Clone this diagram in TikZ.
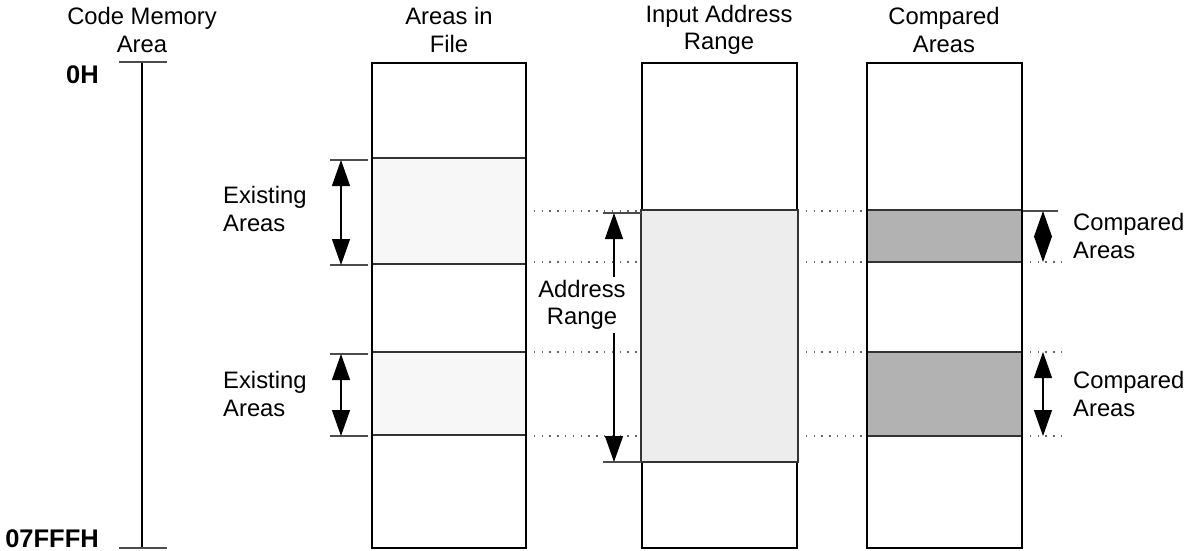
\documentclass[tikz,border=0pt]{standalone}
\usepackage{fontspec}
\setmainfont{Liberation Sans}
\usetikzlibrary{arrows.meta}
\begin{document}
\begin{tikzpicture}[x=1pt,y=-1pt,
  lbl/.style={font=\fontsize{23.8}{27.5}\selectfont, inner sep=0pt},
  big/.style={font=\fontsize{25.5}{30}\bfseries\selectfont, inner sep=0pt},
  col/.style={draw=black, line width=2.5pt},
  area/.style={draw=black!80, line width=1.2pt},
  tick/.style={draw=black!70, line width=1.6pt},
  dots/.style={draw=black!60, line width=1.3pt, dash pattern=on 1.3pt off 6.5pt},
  dimarrow/.style={draw=black, line width=1.2pt, {Triangle[length=26pt,width=18pt]}-{Triangle[length=26pt,width=18pt]}},
]
\useasboundingbox (0,0) rectangle (1187,550);

% headers
\node[lbl, align=center] (h0) at (142,30) {Code Memory\\Area};
\node[lbl, align=center] (h1) at (449,30) {Areas in\\File};
\node[lbl, align=center] (h2) at (719,30) {Input Address\\Range};
\node[lbl, align=center] (h3) at (944,30) {Compared\\Areas};

% code memory scale
\coordinate (cmT) at (142,62);
\coordinate (cmB) at (142,548);
\draw[line width=1.2pt] (cmT) -- (cmB);
\draw[tick] (119,62) -- (167,62);
\draw[tick] (119,548) -- (167,548);
\node[big, anchor=base west] (l0) at (66,83) {0H};
\node[big, anchor=base east] (l1) at (99,547) {07FFFH};

% dotted guide lines
\foreach \yy in {211,262,352,436}{
  \draw[dots] (526,\yy) -- (641,\yy);
  \draw[dots] (798,\yy) -- (867,\yy);
}
\draw[tick, line width=1.3pt] (1022,211) -- (1058,211);
\foreach \yy in {262,352,436}{
  \draw[dots] (1022,\yy) -- (1062,\yy);
}

% column 1 : areas in file
\draw[area, fill=black!3] (372,158) rectangle (526,264);
\draw[area, fill=black!3] (372,352) rectangle (526,435);
\draw[col] (372,63) rectangle (526,548);

% column 2 : input address range
\draw[col] (642,63) rectangle (797,548);
\draw[area, fill=black!7] (641,210) rectangle (798,462);

% column 3 : compared areas
\draw[area, fill=black!30] (867,210) rectangle (1022,262);
\draw[area, fill=black!30] (867,352) rectangle (1022,436);
\draw[col] (867,63) rectangle (1022,548);

% existing areas dimensions
\draw[tick] (330,160) -- (368,160);
\draw[tick] (330,265) -- (368,265);
\draw[dimarrow] (341,160) -- (341,265);
\node[lbl, align=left, anchor=west] (ex1) at (223,209) {Existing\\Areas};

\draw[tick] (330,354) -- (368,354);
\draw[tick] (330,436) -- (368,436);
\draw[dimarrow] (341,354) -- (341,436);
\node[lbl, align=left, anchor=west] (ex2) at (223,394) {Existing\\Areas};

% address range dimension
\draw[tick] (603,213) -- (641,213);
\draw[tick] (603,462) -- (641,462);
\draw[dimarrow] (614,213) -- (614,462);
\node[lbl, align=center, fill=white, inner sep=3pt] (ar) at (582,305) {Address\\Range};

% compared areas dimensions
\draw[dimarrow] (1043,211) -- (1043,262);
\node[lbl, align=left, anchor=west] (ca1) at (1073,236) {Compared\\Areas};
\draw[dimarrow] (1043,352) -- (1043,436);
\node[lbl, align=left, anchor=west] (ca2) at (1073,394) {Compared\\Areas};
\end{tikzpicture}
\end{document}
